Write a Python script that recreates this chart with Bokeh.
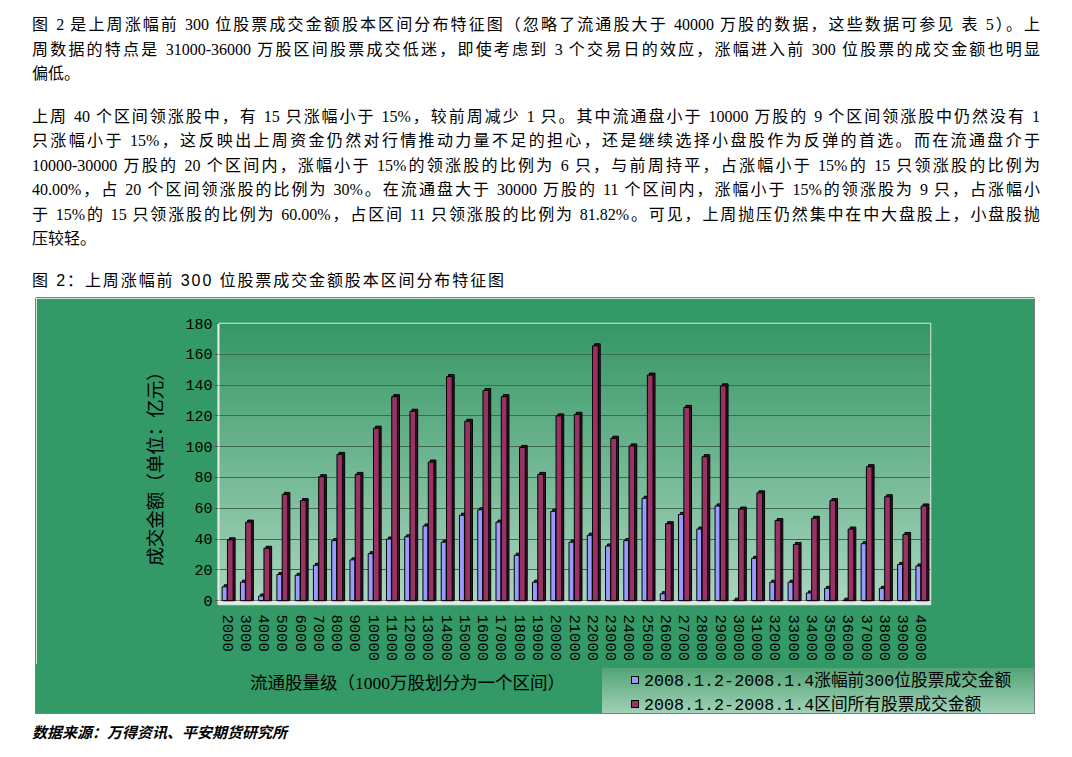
import numpy as np
from bokeh.plotting import figure
from bokeh.models import (Div, BoxAnnotation, FixedTicker,
                          Range1d, FactorRange, ColumnDataSource)
from bokeh.layouts import column
from bokeh.transform import dodge
from bokeh.embed import file_html
from bokeh.resources import INLINE

# ---------------- data ----------------
categories = ["2000", "3000", "4000", "5000", "6000", "7000", "8000", "9000", "10000",
              "11000", "12000", "13000", "14000", "15000", "16000", "17000", "18000",
              "19000", "20000", "21000", "22000", "23000", "24000", "25000", "26000",
              "27000", "28000", "29000", "30000", "31000", "32000", "33000", "34000",
              "35000", "36000", "37000", "38000", "39000", "40000"]
top300_turnover = [9, 12, 3, 17, 16.5, 23, 39, 26.5, 30.5, 40, 41.5, 48.5, 38, 55.5, 59,
                   51, 29.5, 12, 58, 38, 42.5, 35.5, 39, 66.5, 4.5, 56, 46.5, 61.5, 0.3,
                   27.5, 12, 12, 5, 8, 0.3, 37, 8, 23.5, 22.5]
all_turnover = [39.5, 51, 34, 69, 65, 80.5, 95, 82, 112, 132.5, 123, 90, 145.5, 116.5,
                136.5, 132.5, 99.5, 82, 120, 121, 165.5, 105.5, 100.5, 146.5, 50, 125.5,
                93.5, 139.5, 59.5, 70, 52, 36.5, 53.5, 65, 46.5, 87, 67.5, 43, 61.5]
y_ticks = [0, 20, 40, 60, 80, 100, 120, 140, 160, 180]
series_labels = ["2008.1.2-2008.1.4涨幅前300位股票成交金额",
                 "2008.1.2-2008.1.4区间所有股票成交金额"]
series_colors = ["#9999FF", "#993366"]
y_title = "成交金额（单位：亿元）"
x_title = "流通股量级（1000万股划分为一个区间）"

para1 = ["图 2 是上周涨幅前 300 位股票成交金额股本区间分布特征图（忽略了流通股大于 40000 万股的数据，这些数据可参见 表 5）。上",
         "周数据的特点是 31000-36000 万股区间股票成交低迷，即使考虑到 3 个交易日的效应，涨幅进入前 300 位股票的成交金额也明显",
         "偏低。"]
para2 = ["上周 40 个区间领涨股中，有 15 只涨幅小于 15%，较前周减少 1 只。其中流通盘小于 10000 万股的 9 个区间领涨股中仍然没有 1",
         "只涨幅小于 15%，这反映出上周资金仍然对行情推动力量不足的担心，还是继续选择小盘股作为反弹的首选。而在流通盘介于",
         "10000-30000 万股的 20 个区间内，涨幅小于 15%的领涨股的比例为 6 只，与前周持平，占涨幅小于 15%的 15 只领涨股的比例为",
         "40.00%，占 20 个区间领涨股的比例为 30%。在流通盘大于 30000 万股的 11 个区间内，涨幅小于 15%的领涨股为 9 只，占涨幅小",
         "于 15%的 15 只领涨股的比例为 60.00%，占区间 11 只领涨股的比例为 81.82%。可见，上周抛压仍然集中在中大盘股上，小盘股抛",
         "压较轻。"]
caption = "图 2：上周涨幅前 300 位股票成交金额股本区间分布特征图"
source_note = "数据来源：万得资讯、平安期货研究所"

# ---------------- fonts / colours ----------------
SERIF = "'Liberation Serif','Noto Sans CJK SC',serif"
SANS = "'Liberation Sans','Noto Sans CJK SC',sans-serif"
MONO = "'Liberation Mono','Noto Sans CJK SC',monospace"
GREEN = "#339966"
BORDER = "#7d7d7d"


def line_html(text, top, justify=True, font=SERIF, size=16, extra="", left=32):
    last = "justify" if justify else "left"
    width = "1008px" if justify else "auto"
    return (f'<div style="position:absolute;left:{left}px;top:{top}px;width:{width};height:20px;'
            f'line-height:20px;font-size:{size}px;font-family:{font};color:#000;'
            f'white-space:pre;text-align:justify;text-align-last:{last};{extra}">{text}</div>')


# ---------------- text above the chart ----------------
parts = []
p1_tops = [15, 39.5, 64]
for i, t in enumerate(para1):
    parts.append(line_html(t, p1_tops[i], justify=(i < len(para1) - 1)))
p2_tops = [106.5, 131, 155.5, 180, 204.5, 229]
for i, t in enumerate(para2):
    parts.append(line_html(t, p2_tops[i], justify=(i < len(para2) - 1)))
parts.append(line_html(caption, 270.5, justify=False, font=SANS, size=16,
                       extra="letter-spacing:1.9px;"))
top_html = '<div style="position:relative;width:1064px;height:298px;">' + "".join(parts) + "</div>"
top_div = Div(text=top_html, width=1064, height=298, margin=(0, 0, 0, 0))

# ---------------- chart ----------------
source = ColumnDataSource(dict(cat=categories, top300=top300_turnover, total=all_turnover))

p = figure(x_range=FactorRange(factors=categories, range_padding=0, factor_padding=0),
           y_range=Range1d(-2.5, 180),
           width=998, height=366, output_backend="svg", toolbar_location=None,
           min_border_left=182, min_border_right=104, min_border_top=25, min_border_bottom=53,
           background_fill_color=GREEN, border_fill_color=GREEN,
           outline_line_color="#e4e4e4", outline_line_width=1.5,
           margin=(0, 0, 0, 36))
p.styles = {"box-shadow": f"-1px 0 0 {BORDER}, 1px 0 0 {BORDER}, 0 -1px 0 {BORDER}"}

# plot-area gradient (dark green at top -> pale green at bottom)
n = 240
frac = np.linspace(0.0, 1.0, n)[:, None]
c_bot = np.array([170, 215, 192])
c_top = np.array([54, 151, 101])
rgb = (c_bot + (c_top - c_bot) * frac).astype(np.uint8)
img = np.zeros((n, 1), dtype=np.uint32)
view = img.view(dtype=np.uint8).reshape((n, 1, 4))
view[:, 0, 0] = rgb[:, 0]
view[:, 0, 1] = rgb[:, 1]
view[:, 0, 2] = rgb[:, 2]
view[:, 0, 3] = 255
p.image_rgba(image=[img], x=0, y=-2.5, dw=len(categories), dh=182.5, level="image")

# floor of the 3-D chart
p.add_layout(BoxAnnotation(bottom=-2.5, top=0, fill_color="#e2ebe5", fill_alpha=1,
                           line_color=None, level="underlay"))

# bars with a simple depth (side + top cap)
BW, RW = 0.27, 0.31
BOFF, ROFF = -0.165, 0.145
DX, DY = 0.11, 1.3
p.vbar(x=dodge("cat", BOFF + DX, range=p.x_range), top=dodge("top300", DY), bottom=0,
       width=BW, source=source, fill_color="#2f2f55", line_color="black", line_width=1)
p.vbar(x=dodge("cat", BOFF, range=p.x_range), top="top300", bottom=0, width=BW,
       source=source, fill_color=series_colors[0], line_color="black", line_width=1)
p.vbar(x=dodge("cat", ROFF + DX, range=p.x_range), top=dodge("total", DY), bottom=0,
       width=RW, source=source, fill_color="#3d0f26", line_color="black", line_width=1)
p.vbar(x=dodge("cat", ROFF, range=p.x_range), top="total", bottom=0, width=RW,
       source=source, fill_color=series_colors[1], line_color="black", line_width=1)

# grid
p.xgrid.visible = False
p.ygrid.ticker = FixedTicker(ticks=y_ticks)
p.ygrid.grid_line_color = "#3b6a50"
p.ygrid.grid_line_width = 1

# y axis
p.yaxis.ticker = FixedTicker(ticks=y_ticks)
p.yaxis.major_label_text_font = MONO
p.yaxis.major_label_text_font_size = "15px"
p.yaxis.major_label_text_color = "black"
p.yaxis.axis_line_color = "#e8e8e8"
p.yaxis.axis_line_width = 2
p.yaxis.major_tick_out = 4
p.yaxis.major_tick_in = 0
p.yaxis.major_tick_line_color = "#5a5a5a"
p.yaxis.minor_tick_line_color = None
p.yaxis.major_label_standoff = 2
p.yaxis.axis_label = y_title
p.yaxis.axis_label_text_font = "Noto Sans CJK SC"
p.yaxis.axis_label_text_font_size = "18.5px"
p.yaxis.axis_label_text_font_style = "normal"
p.yaxis.axis_label_text_color = "black"
p.yaxis.axis_label_standoff = 15

# x axis
p.xaxis.major_label_orientation = "vertical"
p.xaxis.major_label_text_font = MONO
p.xaxis.major_label_text_font_size = "15.5px"
p.xaxis.major_label_text_color = "black"
p.xaxis.major_tick_line_color = None
p.xaxis.minor_tick_line_color = None
p.xaxis.axis_line_color = None
p.xaxis.major_label_standoff = 4

# ---------------- bottom strip of the chart box: x-axis title + legend ----------------
swatches = "".join(
    f'<div style="position:absolute;left:595px;top:{t}px;width:8px;height:8px;'
    f'box-sizing:border-box;border:1px solid #000;background:{c};"></div>'
    for c, t in zip(series_colors, [11.5, 36]))
leg_texts = "".join(
    f'<div style="position:absolute;left:608px;top:{t}px;height:22px;line-height:22px;'
    f'white-space:pre;font-family:{MONO};font-size:16.7px;color:#000;">{lab}</div>'
    for lab, t in zip(series_labels, [6.5, 31]))
strip_html = (
    f'<div style="position:relative;width:1000px;height:50px;background:{GREEN};'
    f'box-sizing:border-box;border-left:1px solid {BORDER};border-right:1px solid {BORDER};'
    f'border-bottom:1px solid {BORDER};">'
    f'<div style="position:absolute;left:0px;top:8px;width:743px;height:22px;line-height:22px;'
    f'text-align:center;white-space:pre;font-family:{SERIF};font-size:17.5px;color:#000;">{x_title}</div>'
    f'<div style="position:absolute;left:566px;top:4px;width:432px;height:45px;'
    f'background:linear-gradient(to bottom, rgb(82,164,118), rgb(160,209,183));"></div>'
    + swatches + leg_texts + "</div>")
strip_div = Div(text=strip_html, width=1000, height=50, margin=(0, 0, 0, 35))

# ---------------- source note ----------------
src_html = ('<div style="position:relative;width:1064px;height:40px;">'
            + line_html(source_note, 9, justify=False, font=SANS, size=15,
                        extra="font-weight:bold;font-style:italic;") + "</div>")
src_div = Div(text=src_html, width=1064, height=40, margin=(0, 0, 0, 0))

layout = column(top_div, p, strip_div, src_div, spacing=0)

with open("out.html", "w") as fh:
    fh.write(file_html(layout, INLINE))
